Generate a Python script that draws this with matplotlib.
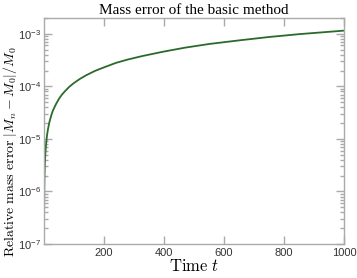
import matplotlib
matplotlib.use("Agg")
import matplotlib.pyplot as plt
from matplotlib.ticker import LogLocator, FixedLocator, NullLocator

plt.rcParams['mathtext.fontset'] = 'cm'

# data
time = [0.13, 0.2, 0.3, 0.5, 0.7, 1, 1.5, 2, 3, 4, 5, 7, 10, 13, 17, 20, 25,
        30, 40, 50, 60, 70, 85, 100, 120, 140, 170, 200, 240, 280, 330, 400,
        470, 550, 650, 750, 850, 1000]
mass_error = [1.5e-7, 2.3e-7, 3.5e-7, 5.8e-7, 8.1e-7, 1.16e-6, 1.74e-6,
              2.3e-6, 3.5e-6, 4.6e-6, 5.8e-6, 8.1e-6, 1.16e-5, 1.5e-5,
              1.97e-5, 2.3e-5, 2.9e-5, 3.5e-5, 4.6e-5, 5.8e-5, 7.0e-5,
              8.1e-5, 9.9e-5, 1.16e-4, 1.39e-4, 1.62e-4, 1.97e-4, 2.3e-4,
              2.8e-4, 3.25e-4, 3.8e-4, 4.6e-4, 5.45e-4, 6.4e-4, 7.5e-4,
              8.7e-4, 9.85e-4, 1.15e-3]
xticks = [200, 400, 600, 800, 1000]

fig = plt.figure(figsize=(3.57, 2.78), dpi=100)
ax = fig.add_axes([44/357, 34/278, 300/357, 226/278])
ax.plot(time, mass_error, color='#2b6a2b', lw=1.3)
ax.set_yscale('log')
ax.set_xlim(0, 1000)
ax.set_ylim(1e-7, 2e-3)
ax.xaxis.set_major_locator(FixedLocator(xticks))
ax.xaxis.set_minor_locator(NullLocator())
ax.yaxis.set_major_locator(LogLocator(base=10, numticks=10))
ax.yaxis.set_minor_locator(LogLocator(base=10, subs=range(2, 10), numticks=20))

tc = '#aaaaaa'
for s in ax.spines.values():
    s.set_color(tc)
    s.set_linewidth(1.0)
ax.tick_params(which='both', direction='in', top=True, right=True, color=tc,
               labelcolor='#333333', labelsize=8, width=1.0)
ax.tick_params(which='major', length=6, pad=3)
ax.tick_params(axis='y', which='major', pad=2)
ax.tick_params(which='minor', length=3)
for lab in ax.get_xticklabels() + ax.get_yticklabels():
    lab.set_fontfamily('Liberation Sans')

ax.set_title('Mass error of the basic method', family='Liberation Serif',
             fontsize=11, pad=3)
ax.set_xlabel(r'$\mathrm{Time}\ t$', fontsize=12, labelpad=-1)
ax.set_ylabel(r'$\mathrm{Relative\ mass\ error}\ |M_n - M_0|/M_0$',
              fontsize=10)
ax.yaxis.set_label_coords(-0.083, 0.41)

fig.savefig('out.png', dpi=100)
